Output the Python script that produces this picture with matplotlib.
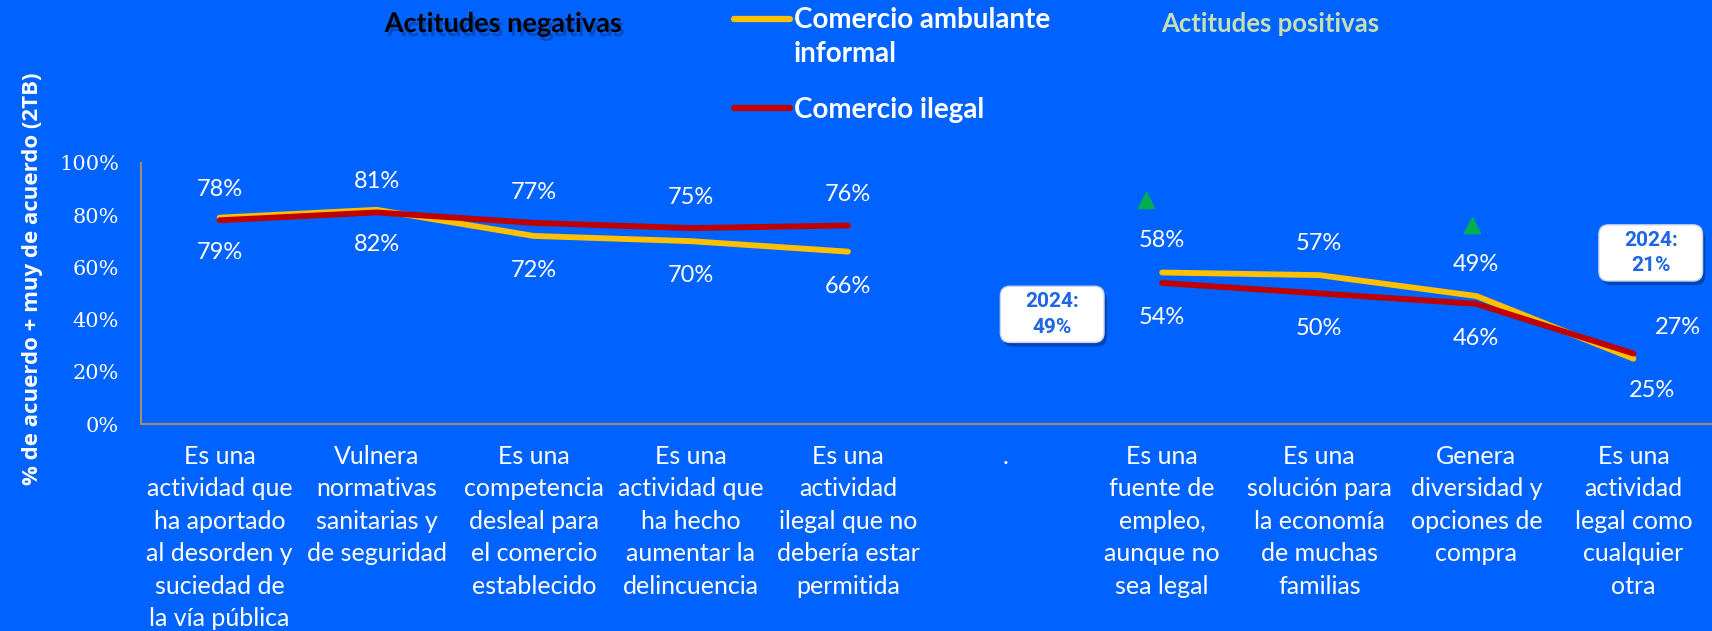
import matplotlib
matplotlib.use("Agg")
import matplotlib.pyplot as plt
import matplotlib.patheffects as pe
from matplotlib.lines import Line2D
from matplotlib.patches import FancyBboxPatch
import numpy as np

categorias = [
    "Es una\nactividad que\nha aportado\nal desorden y\nsuciedad de\nla vía pública",
    "Vulnera\nnormativas\nsanitarias y\nde seguridad",
    "Es una\ncompetencia\ndesleal para\nel comercio\nestablecido",
    "Es una\nactividad que\nha hecho\naumentar la\ndelincuencia",
    "Es una\nactividad\nilegal que no\ndebería estar\npermitida",
    ".",
    "Es una\nfuente de\nempleo,\naunque no\nsea legal",
    "Es una\nsolución para\nla economía\nde muchas\nfamilias",
    "Genera\ndiversidad y\nopciones de\ncompra",
    "Es una\nactividad\nlegal como\ncualquier\notra",
]
# None = hueco entre actitudes negativas y positivas
ambulante = [79, 82, 72, 70, 66, None, 58, 57, 49, 25]
ilegal = [78, 81, 77, 75, 76, None, 54, 50, 46, 27]

# flechas verdes (subida vs 2024) y cajas 2024
flechas_x = [5.9, 7.97]
flechas_y = [85.8, 76]
cajas_txt = ["2024:\n49%", "2024:\n21%"]
cajas_x = [5.3, 9.11]
cajas_y = [42, 65.5]

BG = "#0063FF"
AMARILLO = "#FFC000"
ROJO = "#C00000"
EJE = "#A09070"

fig = plt.figure(figsize=(17.12, 6.31), dpi=100, facecolor=BG)
ax = fig.add_axes([0.0824, 0.328, 0.9176, 0.414], facecolor=BG)

x = np.arange(len(categorias))
y_amb = np.array([np.nan if v is None else v / 100 for v in ambulante])
y_ile = np.array([np.nan if v is None else v / 100 for v in ilegal])

ax.plot(x, y_amb, color=AMARILLO, lw=4.2, solid_capstyle="round", zorder=3)
ax.plot(x, y_ile, color=ROJO, lw=4.2, solid_capstyle="round", zorder=4)

lab_kw = dict(textcoords="offset points", ha="center", va="center",
              color="white", fontsize=17, family="Lato")
for i in range(len(categorias)):
    if ambulante[i] is None:
        continue
    if i < 5:
        ax.annotate(f"{ilegal[i]}%", (i, y_ile[i]), xytext=(0, 22), **lab_kw)
        ax.annotate(f"{ambulante[i]}%", (i, y_amb[i]), xytext=(0, -25), **lab_kw)
    elif i < 9:
        ax.annotate(f"{ambulante[i]}%", (i, y_amb[i]), xytext=(0, 23), **lab_kw)
        ax.annotate(f"{ilegal[i]}%", (i, y_ile[i]), xytext=(0, -25), **lab_kw)
    else:
        ax.annotate(f"{ilegal[i]}%", (i, y_ile[i]), xytext=(32, 19), **lab_kw)
        ax.annotate(f"{ambulante[i]}%", (i, y_amb[i]), xytext=(13, -23), **lab_kw)

ax.plot(flechas_x, np.array(flechas_y) / 100, ls="none", marker="^",
        color="#00B050", markersize=11, zorder=5)

bw, bh = 0.66, 0.215
for t, cx, cy in zip(cajas_txt, cajas_x, cajas_y):
    caja = FancyBboxPatch((cx - bw / 2, cy / 100 - bh / 2), bw, bh,
                          boxstyle="round,pad=0,rounding_size=0.06",
                          mutation_aspect=0.62, fc="white", ec="#C8D4E8",
                          lw=1, zorder=6, clip_on=False)
    caja.set_path_effects(
        [pe.SimplePatchShadow(offset=(2, -3), shadow_rgbFace="#002060", alpha=0.45),
         pe.Normal()])
    ax.add_patch(caja)
    ax.text(cx, cy / 100, t, ha="center", va="center", color="#1F66E6",
            fontsize=15, fontweight="bold", family="Roboto",
            linespacing=1.45, zorder=7)

ax.set_xlim(-0.5, len(categorias) - 0.5)
ax.set_ylim(0, 1)
ax.set_yticks(np.arange(0, 1.01, 0.2))
ax.set_yticklabels([f"{int(round(v * 100))}%" for v in np.arange(0, 1.01, 0.2)],
                   family="DejaVu Serif", fontsize=15, color="white")
ax.set_xticks(x)
ax.set_xticklabels(categorias, family="Lato", fontsize=18, color="white",
                   linespacing=1.5, va="top")
ax.tick_params(axis="both", length=0)
ax.tick_params(axis="y", pad=16)
ax.tick_params(axis="x", pad=15)

for s in ["top", "right"]:
    ax.spines[s].set_visible(False)
for s in ["left", "bottom"]:
    ax.spines[s].set_color(EJE)
    ax.spines[s].set_linewidth(1.5)

fig.text(0.019, 0.559, "% de acuerdo + muy de acuerdo (2TB)", rotation=90,
         ha="center", va="center", color="white", fontsize=16,
         fontweight="bold", family="Open Sans")

fig.text(0.294, 0.962, "Actitudes negativas", ha="center", va="center",
         color="black", fontsize=19.5, fontweight="bold", family="Lato",
         path_effects=[pe.SimplePatchShadow(offset=(2, -3), alpha=0.25),
                       pe.Normal()])
fig.text(0.742, 0.962, "Actitudes positivas", ha="center", va="center",
         color="#C5E0B4", fontsize=18.5, fontweight="bold", family="Lato")

# leyenda
fig.add_artist(Line2D([0.4287, 0.4614], [0.970, 0.970], color=AMARILLO, lw=4.5,
                      solid_capstyle="round", transform=fig.transFigure))
fig.text(0.4638, 0.968, "Comercio ambulante", ha="left", va="center",
         color="white", fontsize=20, fontweight="bold", family="Lato")
fig.text(0.4638, 0.915, "informal", ha="left", va="center",
         color="white", fontsize=20, fontweight="bold", family="Lato")
fig.add_artist(Line2D([0.4287, 0.4614], [0.829, 0.829], color=ROJO, lw=4.5,
                      solid_capstyle="round", transform=fig.transFigure))
fig.text(0.4638, 0.826, "Comercio ilegal", ha="left", va="center",
         color="white", fontsize=20, fontweight="bold", family="Lato")

fig.savefig("out.png", dpi=100, facecolor=BG)
